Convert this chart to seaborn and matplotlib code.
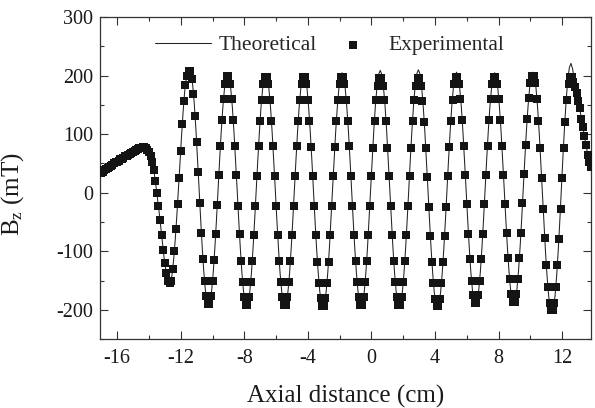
import matplotlib
matplotlib.use("Agg")
import matplotlib.pyplot as plt
import numpy as np
import pandas as pd
import seaborn as sns
from matplotlib.ticker import MultipleLocator

# measured field, sampled every 0.1 cm starting at -17.0 cm
EXP_START = -17.0
exp_bz = [
    # -17.0 .. -14.4
    34, 36, 38, 40, 42, 44, 46, 48, 50, 52, 53, 55, 57, 58, 60, 62, 63, 65, 67, 68,
    70, 71, 73, 74, 76, 77, 78,
    # -14.3 .. -11.5
    78, 76, 73, 69, 62, 52, 38, 20, 0, -23, -47, -73, -98, -120, -138, -150, -154,
    -150, -130, -100, -62, -20, 25, 72, 117, 156, 184, 200, 208,
    # -11.4 .. 12.5, one half period per line
    208, 195, 168, 131, 86, 35, -17, -68, -113, -150, -177, -190,
    -190, -177, -151, -115, -71, -21, 30, 80, 124, 160, 186, 199,
    199, 186, 160, 124, 79, 30, -22, -71, -116, -152, -178, -191,
    -191, -178, -152, -116, -72, -22, 29, 79, 123, 159, 185, 198,
    198, 185, 159, 123, 79, 29, -22, -72, -116, -152, -178, -191,
    -191, -178, -152, -116, -72, -22, 29, 79, 123, 159, 185, 198,
    198, 185, 159, 123, 78, 28, -23, -73, -118, -154, -180, -193,
    -193, -180, -154, -118, -73, -23, 28, 78, 123, 159, 185, 198,
    198, 185, 159, 123, 79, 29, -22, -72, -116, -152, -178, -191,
    -191, -178, -153, -117, -72, -23, 28, 77, 122, 158, 183, 196,
    196, 183, 158, 122, 77, 28, -23, -72, -117, -153, -178, -191,
    -191, -178, -153, -117, -72, -23, 28, 77, 122, 158, 183, 196,
    196, 183, 157, 121, 76, 27, -25, -74, -119, -155, -181, -194,
    -194, -181, -155, -119, -74, -24, 28, 78, 123, 159, 185, 198,
    198, 185, 160, 124, 80, 30, -20, -70, -114, -150, -175, -188,
    -188, -175, -150, -114, -70, -20, 30, 80, 124, 160, 185, 198,
    198, 185, 160, 124, 80, 31, -19, -68, -112, -148, -173, -186,
    -186, -173, -148, -112, -68, -18, 32, 82, 126, 162, 187, 200,
    200, 187, 160, 123, 77, 26, -27, -78, -124, -161, -188, -201,
    -201, -188, -161, -124, -79, -28, 25, 76, 121, 158, 185, 198,
    # 12.6 .. 13.8
    198, 190, 180, 170, 157, 145, 126, 112, 97, 81, 65, 52, 44,
]

# theoretical curve, sampled every 0.1 cm starting at -17.05 cm
THEORY_START = -17.05
theory_bz = [
    # -17.05 .. -14.45
    33, 35, 37, 39, 41, 43, 45, 47, 49, 51, 53, 54, 56, 58, 59, 61, 63, 64, 66, 68,
    69, 71, 72, 74, 75, 77, 78,
    # -14.35 .. -11.55
    79, 78, 75, 71, 66, 58, 46, 30, 10, -12, -35, -60, -86, -110, -130, -146, -154,
    -153, -141, -116, -82, -42, 2, 49, 96, 138, 173, 195, 208,
    # -11.45 .. 12.45
    212, 205, 185, 153, 111, 62, 10, -43, -92, -134, -166, -186,
    -193, -186, -166, -135, -94, -46, 6, 57, 105, 146, 177, 197,
    204, 197, 177, 146, 104, 56, 5, -47, -95, -137, -168, -188,
    -195, -188, -168, -137, -95, -47, 5, 56, 104, 146, 177, 197,
    204, 197, 177, 146, 104, 56, 5, -47, -95, -137, -168, -188,
    -195, -188, -168, -137, -95, -47, 5, 56, 104, 146, 177, 197,
    204, 197, 177, 145, 104, 56, 4, -48, -96, -137, -169, -189,
    -196, -189, -169, -137, -96, -47, 5, 56, 105, 146, 178, 198,
    205, 198, 178, 146, 105, 57, 5, -47, -95, -136, -168, -188,
    -195, -188, -168, -136, -94, -45, 7, 59, 108, 150, 182, 202,
    209, 202, 182, 150, 108, 59, 7, -45, -94, -136, -168, -188,
    -195, -188, -168, -136, -94, -45, 8, 60, 109, 151, 183, 203,
    210, 203, 183, 150, 108, 59, 7, -46, -95, -137, -170, -190,
    -197, -190, -170, -138, -96, -48, 5, 57, 105, 147, 179, 199,
    206, 199, 179, 148, 106, 58, 7, -45, -93, -135, -166, -186,
    -193, -186, -166, -135, -94, -46, 6, 58, 106, 147, 178, 198,
    205, 198, 178, 147, 106, 58, 7, -45, -93, -134, -165, -185,
    -192, -185, -165, -134, -93, -45, 7, 59, 107, 148, 179, 199,
    206, 199, 179, 146, 104, 54, 1, -52, -102, -144, -177, -197,
    -204, -197, -176, -142, -98, -47, 9, 64, 115, 159, 193, 214,
    # 12.55 .. 13.85
    221, 212, 194, 178, 165, 151, 136, 119, 104, 89, 73, 58, 48, 40,
]

STEP = 0.1
x_ticks = [-16, -12, -8, -4, 0, 4, 8, 12]
y_ticks = [-200, -100, 0, 100, 200, 300]

exp_df = pd.DataFrame({
    "x": np.round(EXP_START + STEP * np.arange(len(exp_bz)), 2),
    "bz": exp_bz,
})
theory_df = pd.DataFrame({
    "x": np.round(THEORY_START + STEP * np.arange(len(theory_bz)), 2),
    "bz": theory_bz,
})

sns.set_style("ticks")
plt.rcParams["font.family"] = ["Liberation Serif", "DejaVu Serif"]
plt.rcParams["mathtext.fontset"] = "custom"
plt.rcParams["mathtext.rm"] = "Liberation Serif"
plt.rcParams["mathtext.it"] = "Liberation Serif:italic"
plt.rcParams["axes.unicode_minus"] = False

fig = plt.figure(figsize=(5.95, 4.08), dpi=100)
ax = fig.add_axes([0.168, 0.169, 0.825, 0.789])

sns.lineplot(data=theory_df, x="x", y="bz", color="#222222", linewidth=0.75,
             sort=False, label="Theoretical", ax=ax, zorder=2)
sns.scatterplot(data=exp_df, x="x", y="bz", marker="s", s=30, color="#141414",
                linewidth=0, label="Experimental", ax=ax, zorder=3)

ax.set_xlim(-17.08, 13.8)
ax.set_ylim(-250, 300)
ax.set_xticks(x_ticks)
ax.set_yticks(y_ticks)
ax.xaxis.set_minor_locator(MultipleLocator(2))
ax.yaxis.set_minor_locator(MultipleLocator(50))
ax.tick_params(which="both", direction="in", top=True, right=True,
               width=0.8, colors="#333333", labelcolor="#1a1a1a", labelsize=14.5)
ax.tick_params(which="major", length=5.5)
ax.tick_params(which="minor", length=3)
ax.tick_params(axis="x", pad=7)
ax.tick_params(axis="y", pad=5)
for side in ax.spines.values():
    side.set_linewidth(0.9)
    side.set_color("#333333")

ax.set_xlabel("Axial distance (cm)", fontsize=18, color="#1a1a1a", labelpad=12)
ax.set_ylabel(r"B$_\mathregular{z}$ (mT)", fontsize=18, color="#1a1a1a")
ax.yaxis.set_label_coords(-0.151, 0.45)

ax.legend(loc="center", bbox_to_anchor=(0.468, 0.913), ncol=2, frameon=False,
          fontsize=15.5, handlelength=2.6, handletextpad=0.35, columnspacing=0.4)

fig.savefig("out.png", dpi=100)
